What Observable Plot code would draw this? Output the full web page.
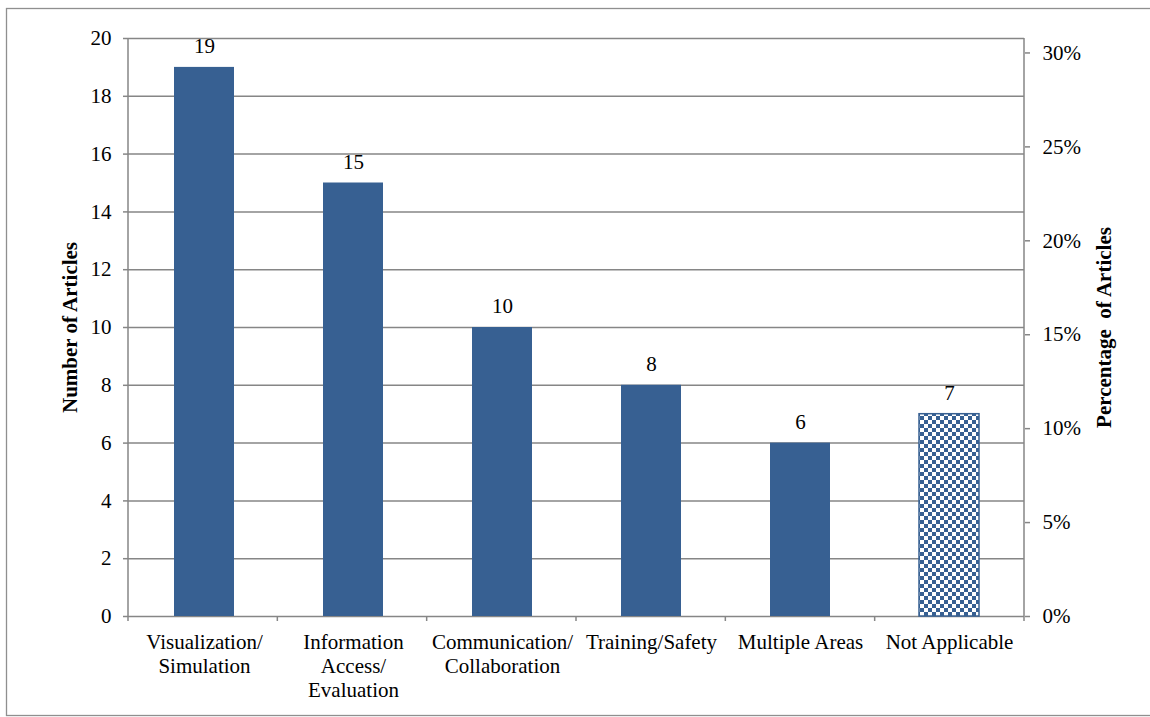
<!DOCTYPE html>
<html>
<head>
<meta charset="utf-8">
<script src="https://cdn.jsdelivr.net/npm/d3@7"></script>
<script src="https://cdn.jsdelivr.net/npm/@observablehq/plot@0.6"></script>
<style>
  html, body { margin: 0; padding: 0; background: #fff; }
  #chart svg, #chart svg text { font-family: "Liberation Serif", "Times New Roman", serif; }
</style>
</head>
<body>
<div id="chart"></div>
<script>
// Articles by application area
const categories = [
  "Visualization/Simulation",
  "Information Access/Evaluation",
  "Communication/Collaboration",
  "Training/Safety",
  "Multiple Areas",
  "Not Applicable"
];
const tickLabels = [
  "Visualization/\nSimulation",
  "Information\nAccess/\nEvaluation",
  "Communication/\nCollaboration",
  "Training/Safety",
  "Multiple Areas",
  "Not Applicable"
];
const counts = [19, 15, 10, 8, 6, 7];
const countTicks = [0, 2, 4, 6, 8, 10, 12, 14, 16, 18, 20];
const percentTicks = [0, 0.05, 0.10, 0.15, 0.20, 0.25, 0.30];
const leftTitle = "Number of Articles";
const rightTitle = "Percentage\u00a0 of Articles";

const total = d3.sum(counts);
const data = categories.map((category, i) => ({category, count: counts[i], label: tickLabels[i]}));
const labelOf = new Map(data.map(d => [d.category, d.label]));

const BLUE = "#376092";
const AXIS = "#868686";
const FONT = "'Liberation Serif', 'Times New Roman', serif";
const FS = 21;

// defs (checker pattern), outer border, axis lines and category boundary ticks
function decorations(index, scales, values, dims) {
  const {width, height, marginLeft, marginRight, marginTop, marginBottom} = dims;
  const x0 = marginLeft, x1 = width - marginRight;
  const y0 = marginTop, y1 = height - marginBottom;
  const g = d3.create("svg:g");
  const pat = g.append("defs").append("pattern")
    .attr("id", "checker")
    .attr("patternUnits", "userSpaceOnUse")
    .attr("width", 8).attr("height", 8);
  pat.append("rect").attr("width", 8).attr("height", 8).attr("fill", "#fff");
  pat.append("rect").attr("width", 4).attr("height", 4).attr("fill", BLUE);
  pat.append("rect").attr("x", 4).attr("y", 4).attr("width", 4).attr("height", 4).attr("fill", BLUE);
  // outer border
  g.append("rect")
    .attr("x", 6.5).attr("y", 8.5)
    .attr("width", width + 10).attr("height", height - 10)
    .attr("fill", "none").attr("stroke", "#8f8f8f").attr("stroke-width", 1.3);
  // axis lines
  const n = categories.length;
  const step = (x1 - x0) / n;
  g.append("line").attr("x1", x0).attr("x2", x0).attr("y1", y0).attr("y2", y1 + 5)
    .attr("stroke", AXIS).attr("stroke-width", 1.5);
  g.append("line").attr("x1", x1).attr("x2", x1).attr("y1", y0).attr("y2", y1 + 5)
    .attr("stroke", AXIS).attr("stroke-width", 1.5);
  for (let i = 1; i < n; ++i) {
    g.append("line").attr("x1", x0 + i * step).attr("x2", x0 + i * step)
      .attr("y1", y1).attr("y2", y1 + 5)
      .attr("stroke", AXIS).attr("stroke-width", 1.5);
  }
  return g.node();
}

const chart = Plot.plot({
  width: 1150,
  height: 717,
  marginTop: 38,
  marginBottom: 101,
  marginLeft: 128,
  marginRight: 126,
  style: {fontFamily: FONT, fontSize: FS + "px", background: "#fff", color: "#000"},
  x: {domain: categories, paddingInner: 0.6, paddingOuter: 0.3},
  y: {domain: [0, 20]},
  marks: [
    Plot.gridY(countTicks, {stroke: AXIS, strokeOpacity: 1, strokeWidth: 1.5}),
    Plot.barY(data.filter(d => d.category !== "Not Applicable"), {x: "category", y: "count", fill: BLUE}),
    Plot.barY(data.filter(d => d.category === "Not Applicable"), {
      x: "category", y: "count", fill: "url(#checker)", stroke: BLUE, strokeWidth: 1.5
    }),
    Plot.text(data, {x: "category", y: "count", text: d => String(d.count), dy: -21, fontSize: FS, fontFamily: FONT}),
    decorations,
    Plot.axisY(countTicks, {
      anchor: "left", tickSize: 5, tickPadding: 12, fontSize: FS, fontFamily: FONT,
      stroke: AXIS, strokeWidth: 1.5, label: null
    }),
    Plot.axisY(percentTicks.map(p => p * total), {
      anchor: "right", tickSize: 5, tickPadding: 13, fontSize: FS, fontFamily: FONT,
      stroke: AXIS, strokeWidth: 1.5, label: null,
      tickFormat: v => Math.round(v / total * 100) + "%"
    }),
    Plot.axisX({
      anchor: "bottom", tickSize: 0, tickPadding: 16, fontSize: FS, fontFamily: FONT,
      lineHeight: 1.13, label: null,
      tickFormat: c => labelOf.get(c)
    }),
    Plot.text([leftTitle], {
      frameAnchor: "left", textAnchor: "middle", text: d => d, rotate: -90, dx: -58,
      fontSize: FS, fontWeight: "bold", fontFamily: FONT
    }),
    Plot.text([rightTitle], {
      frameAnchor: "right", textAnchor: "middle", text: d => d, rotate: -90, dx: 80,
      fontSize: FS, fontWeight: "bold", fontFamily: FONT
    })
  ]
});

document.getElementById("chart").append(chart);
</script>
</body>
</html>
